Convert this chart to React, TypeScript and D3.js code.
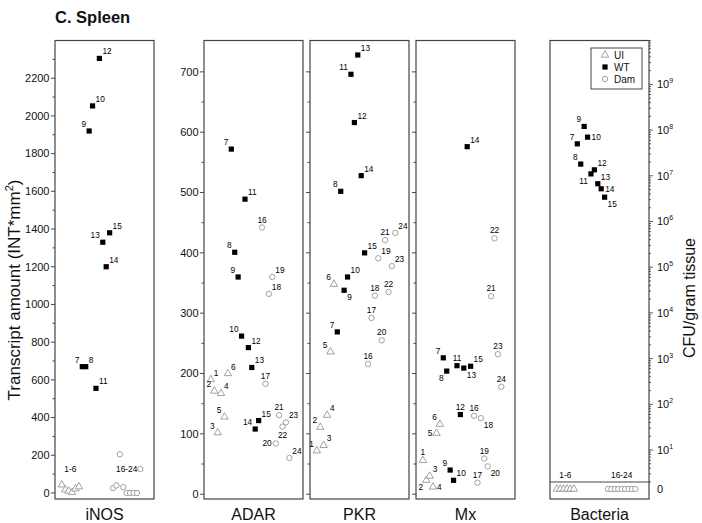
import React from 'react';
import * as d3 from 'd3';

// ---------- DATA ----------
const animalIds = d3.range(1, 25); // animals 1..24
const uiIds = [1, 2, 3, 4, 5, 6];
const wtIds = [7, 8, 9, 10, 11, 12, 13, 14, 15];
const damIds = [16, 17, 18, 19, 20, 21, 22, 23, 24];

const inosValues = [43, 17, 10, 3, 22, 33, 670, 670, 1920, 2053, 555, 2305, 1330, 1200, 1380, 26, 40, 205, 31, 0, 0, 0, 0, 127];
const adarValues = [190, 171, 102, 167, 128, 200, 572, 401, 360, 262, 489, 243, 210, 108, 122, 442, 183, 332, 360, 84, 131, 112, 119, 60];
const pkrValues = [72, 111, 81, 131, 236, 348, 269, 502, 338, 360, 696, 616, 728, 528, 400, 216, 292, 329, 391, 255, 421, 335, 378, 433];
const mxValues = [56, 23, 30, 12, 101, 116, 226, 204, 40, 23, 213, 132, 209, 576, 212, 130, 19, 126, 59, 46, 328, 424, 232, 178];
const bacteriaValues = [0, 0, 0, 0, 0, 0, 5e7, 1.8e7, 1.2e8, 7e7, 1.1e7, 1.35e7, 6.7e6, 5.2e6, 3.4e6, 0, 0, 0, 0, 0, 0, 0, 0, 0];

const inosTicks = [0, 200, 400, 600, 800, 1000, 1200, 1400, 1600, 1800, 2000, 2200];
const transcriptTicks = [0, 100, 200, 300, 400, 500, 600, 700];
const logExponents = [1, 2, 3, 4, 5, 6, 7, 8, 9];
const panelNames = ['iNOS', 'ADAR', 'PKR', 'Mx', 'Bacteria'];
const legendItems = ['UI', 'WT', 'Dam'];
const groupLabels = ['1-6', '16-24'];

// label placement (layout, per animal)
const inosLabelPos = ['', '', '', '', '', '', 'nw', 'ne', 'nw', 'ne', 'ne', 'ne', 'nw', 'ne', 'ne', '', '', '', '', '', '', '', '', ''];
const adarLabelPos = ['ne', 'nw', 'nw', 'ne', 'nw', 'ne', 'nw', 'nw', 'nw', 'nw', 'ne', 'ne', 'ne', 'nw', 'ne', 'n', 'n', 'ne', 'ne', 'w', 'n', 's', 'ne', 'ne'];
const pkrLabelPos = ['nw', 'nw', 'ne', 'ne', 'nw', 'nw', 'nw', 'nw', 'se', 'ne', 'nw', 'ne', 'ne', 'ne', 'ne', 'n', 'n', 'n', 'ne', 'n', 'n', 'n', 'ne', 'ne'];
const mxLabelPos = ['n', 'sw', 'ne', 'e', 'w', 'nw', 'nw', 'sw', 'nw', 'ne', 'n', 'n', 'se', 'ne', 'ne', 'n', 'n', 'se', 'n', 'se', 'n', 'n', 'n', 'n'];
const bactLabelPos = ['', '', '', '', '', '', 'nw', 'nw', 'nw', 'e', 'sw', 'ne', 'ne', 'e', 'se', '', '', '', '', '', '', '', '', ''];

// ---------- LAYOUT ----------
const W = 702, H = 523;
const TOP = 40.5, BOTTOM = 499;
const PW = 99;
const panelX = [55, 204, 310, 416, 550];
const GRAY = '#8c8c8c';
const FONT = 'Liberation Sans, Arial, sans-serif';

const offsets: Record<string, [number, number, string]> = {
  ne: [3, -4, 'start'],
  nw: [-3, -4, 'end'],
  n: [0, -5, 'middle'],
  e: [4, 3, 'start'],
  w: [-4, 3, 'end'],
  se: [3, 10, 'start'],
  sw: [-3, 10, 'end'],
  s: [0, 11, 'middle'],
};

const groupOf = (id: number) => (uiIds.includes(id) ? 'UI' : wtIds.includes(id) ? 'WT' : 'Dam');
const triPath = d3.symbol(d3.symbolTriangle, 24)();

function Marker({ g, x, y }: { g: string; x: number; y: number }) {
  if (g === 'WT') return <rect x={x - 2.6} y={y - 2.6} width={5.2} height={5.2} fill="#000" />;
  if (g === 'UI') return <path d={triPath as string} transform={`translate(${x},${y})`} fill="white" stroke={GRAY} strokeWidth={0.8} />;
  return <circle cx={x} cy={y} r={2.7} fill="white" stroke={GRAY} strokeWidth={0.8} />;
}

function PointLabel({ pos, x, y, id }: { pos: string; x: number; y: number; id: number }) {
  if (!pos) return null;
  const [dx, dy, anchor] = offsets[pos];
  return (
    <text x={x + dx} y={y + dy} fontSize={8.3} textAnchor={anchor as any} fill="#000" fontFamily={FONT}>
      {id}
    </text>
  );
}

function LinearPanel({ x0, values, yScale, labelPos, ticks, minorStep, showLabels }: any) {
  const x = d3.scaleLinear().domain([-1, 28]).range([x0, x0 + PW]);
  const [d0, d1] = yScale.domain();
  const minor = d3.range(Math.ceil(d0 / minorStep) * minorStep, d1 - 5, minorStep).filter((v: number) => v >= 0);
  return (
    <g>
      {minor.map((v: number) => (
        <line key={'m' + v} x1={x0 - (ticks.includes(v) ? 4 : 2.5)} x2={x0} y1={yScale(v)} y2={yScale(v)} stroke="#333" strokeWidth={0.9} />
      ))}
      {showLabels &&
        ticks.map((v: number) => (
          <text key={'t' + v} x={x0 - 5.5} y={yScale(v) + 3.8} fontSize={11} textAnchor="end" fontFamily={FONT} fill="#111">
            {v}
          </text>
        ))}
      <rect x={x0} y={TOP} width={PW} height={BOTTOM - TOP} fill="none" stroke="#444" strokeWidth={1.2} />
      {animalIds.map((id, i) => (
        <Marker key={'p' + id} g={groupOf(id)} x={x(id)} y={yScale(values[i])} />
      ))}
      {animalIds.map((id, i) => (
        <PointLabel key={'l' + id} pos={labelPos[i]} x={x(id)} y={yScale(values[i])} id={id} />
      ))}
    </g>
  );
}

export default function App() {
  const yInos = d3.scaleLinear().domain([-32, 2400]).range([BOTTOM, TOP]);
  const yTr = d3.scaleLinear().domain([-8, 752]).range([BOTTOM, TOP]);
  const xInos = d3.scaleLinear().domain([-1, 28]).range([panelX[0], panelX[0] + PW]);
  const zeroLineY = 482;
  const yLog = d3.scaleLog().domain([Math.pow(10, 0.3), Math.pow(10, 9.96)]).range([zeroLineY, TOP]);
  const zeroY = 489;
  const bx0 = panelX[4];
  const xB = d3.scaleLinear().domain([-1, 28]).range([bx0, bx0 + PW]);
  const bx1 = bx0 + PW;
  const groupCenters = [3.5, 20];

  const minorLog: number[] = [];
  for (let k = 0; k <= 9; k++) {
    for (let m = 1; m <= 9; m++) {
      const v = m * Math.pow(10, k);
      if (v >= Math.pow(10, 0.3) && v <= Math.pow(10, 9.96)) minorLog.push(v);
    }
  }

  return (
    <svg width={W} height={H} style={{ position: 'absolute', left: 0, top: 0, background: 'white' }} fontFamily={FONT}>
      <rect x={0} y={0} width={W} height={H} fill="white" />
      <text x={55} y={23} fontSize={16.5} fontWeight="bold" fill="#111">C. Spleen</text>

      <text transform={`translate(20,290) rotate(-90)`} fontSize={17} textAnchor="middle" fill="#111">
        Transcript amount (INT*mm<tspan dy={-7} fontSize={11}>2</tspan><tspan dy={7}>)</tspan>
      </text>

      <LinearPanel x0={panelX[0]} values={inosValues} yScale={yInos} labelPos={inosLabelPos} ticks={inosTicks} minorStep={100} showLabels />
      {groupLabels.map((t, i) => (
        <text key={'gi' + t} x={xInos(groupCenters[i])} y={yInos(110)} fontSize={8.3} textAnchor="middle" fill="#000">{t}</text>
      ))}

      <LinearPanel x0={panelX[1]} values={adarValues} yScale={yTr} labelPos={adarLabelPos} ticks={transcriptTicks} minorStep={50} showLabels />
      <LinearPanel x0={panelX[2]} values={pkrValues} yScale={yTr} labelPos={pkrLabelPos} ticks={transcriptTicks} minorStep={50} showLabels={false} />
      <LinearPanel x0={panelX[3]} values={mxValues} yScale={yTr} labelPos={mxLabelPos} ticks={transcriptTicks} minorStep={50} showLabels={false} />

      {/* Bacteria panel */}
      <g>
        <rect x={bx0} y={TOP} width={PW} height={BOTTOM - TOP} fill="none" stroke="#444" strokeWidth={1.2} />
        <line x1={bx0} x2={bx1} y1={zeroLineY} y2={zeroLineY} stroke="#444" strokeWidth={1} />
        {minorLog.map((v) => {
          const major = Math.abs(Math.log10(v) - Math.round(Math.log10(v))) < 1e-9;
          return <line key={'lt' + v} x1={bx1} x2={bx1 + (major ? 4 : 2)} y1={yLog(v)} y2={yLog(v)} stroke="#333" strokeWidth={0.8} />;
        })}
        {logExponents.map((k) => (
          <text key={'e' + k} x={bx1 + 8} y={yLog(Math.pow(10, k)) + 4} fontSize={11} fill="#111">
            10<tspan dy={-5} fontSize={7}>{k}</tspan>
          </text>
        ))}
        <text x={bx1 + 8} y={zeroY + 4} fontSize={11} fill="#111">0</text>
        {animalIds.map((id, i) => (
          <Marker key={'b' + id} g={groupOf(id)} x={xB(id)} y={bacteriaValues[i] > 0 ? yLog(bacteriaValues[i]) : zeroY} />
        ))}
        {animalIds.map((id, i) =>
          bacteriaValues[i] > 0 ? (
            <PointLabel key={'bl' + id} pos={bactLabelPos[i]} x={xB(id)} y={yLog(bacteriaValues[i])} id={id} />
          ) : null
        )}
        {groupLabels.map((t, i) => (
          <text key={'gb' + t} x={xB(groupCenters[i])} y={478} fontSize={8.3} textAnchor="middle" fill="#000">{t}</text>
        ))}

        {/* legend */}
        <rect x={591} y={48} width={51} height={41} fill="white" stroke="#444" strokeWidth={1} />
        {legendItems.map((g, i) => (
          <g key={g}>
            <Marker g={g} x={605} y={55 + i * 12} />
            <text x={614} y={58.5 + i * 12} fontSize={10} fill="#111">{g}</text>
          </g>
        ))}
      </g>

      <text transform={`translate(695,298) rotate(-90)`} fontSize={16} textAnchor="middle" fill="#111">CFU/gram tissue</text>

      {panelNames.map((n, i) => (
        <text key={n} x={panelX[i] + PW / 2} y={520} fontSize={16} textAnchor="middle" fill="#111">{n}</text>
      ))}
    </svg>
  );
}
